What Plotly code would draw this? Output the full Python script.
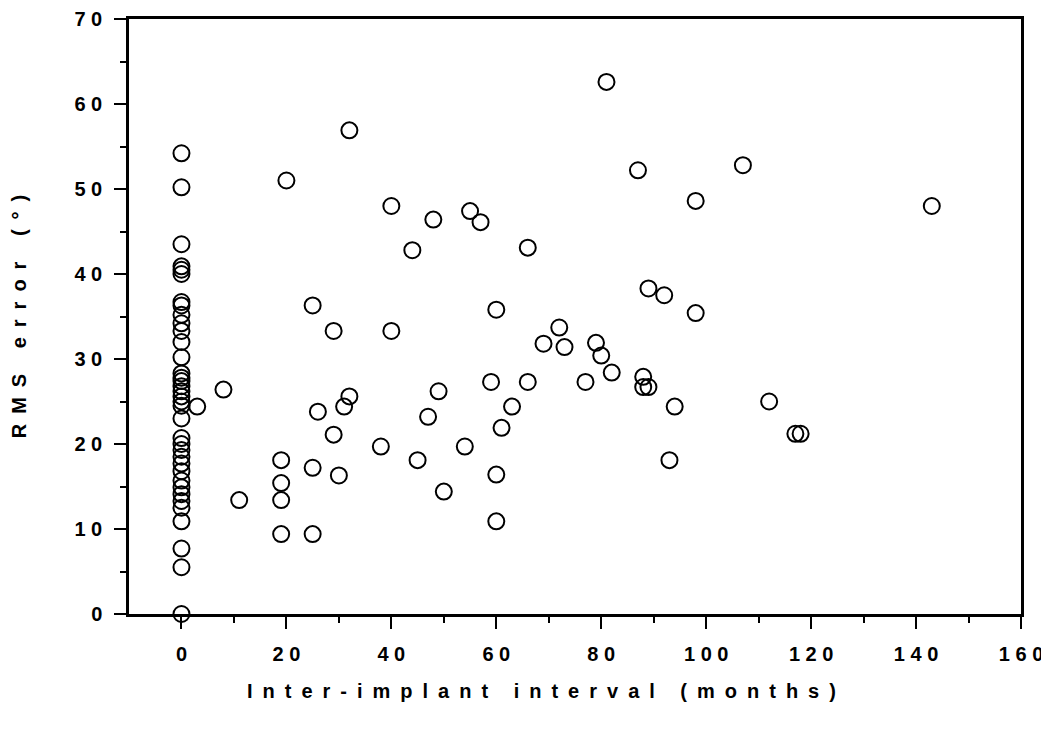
import plotly.graph_objects as go

# ---- data ----
x_zero_group = [0.0] * 37
y_zero_group = [54.2, 50.2, 43.5, 40.9, 40.5, 40.0, 36.7, 36.3, 35.2, 34.2, 33.3, 32.0,
                30.2, 28.3, 27.8, 27.4, 26.8, 26.2, 25.6, 25.0, 24.5, 23.0, 20.7, 20.0,
                19.3, 18.5, 17.7, 16.8, 15.7, 14.9, 14.1, 13.3, 12.5, 10.9, 7.7, 5.5, 0.0]

x_months = [3, 8, 11, 19, 19, 19, 19, 20, 25, 25, 25, 26, 29, 29, 30, 31, 32, 32,
            38, 40, 40, 44, 45, 47, 48, 49, 50, 54, 55, 57, 59, 60, 60, 60, 61, 63,
            66, 66, 69, 72, 73, 77, 79, 80, 81, 82, 87, 88, 88, 89, 89, 92, 93, 94,
            98, 98, 107, 112, 117, 118, 143]
y_rms = [24.4, 26.4, 13.4, 18.1, 15.4, 13.4, 9.4, 51.0, 36.3, 17.2, 9.4, 23.8, 33.3,
         21.1, 16.3, 24.4, 25.6, 56.9, 19.7, 48.0, 33.3, 42.8, 18.1, 23.2, 46.4, 26.2,
         14.4, 19.7, 47.4, 46.1, 27.3, 35.8, 16.4, 10.9, 21.9, 24.4, 43.1, 27.3, 31.8,
         33.7, 31.4, 27.3, 31.9, 30.4, 62.6, 28.4, 52.2, 27.9, 26.7, 26.7, 38.3, 37.5,
         18.1, 24.4, 48.6, 35.4, 52.8, 25.0, 21.2, 21.2, 48.0]

x_tickvals = [0, 20, 40, 60, 80, 100, 120, 140, 160]
x_ticktext = ["0", "2 0", "4 0", "6 0", "8 0", "1 0 0", "1 2 0", "1 4 0", "1 6 0"]
x_minor = [10, 30, 50, 70, 90, 110, 130, 150]
y_tickvals = [0, 10, 20, 30, 40, 50, 60, 70]
y_ticktext = ["0", "1 0", "2 0", "3 0", "4 0", "5 0", "6 0", "7 0"]
y_minor = [5, 15, 25, 35, 45, 55, 65]

x_title = "Inter-implant interval (months)"
y_title = "RMS error (°)"


def spaced(s):
    return "\u2002".join(list(s))


font_family = "Liberation Sans, Arial, Helvetica, sans-serif"
tick_font = dict(family=font_family, size=20, color="black", weight="bold")
title_font = dict(family=font_family, size=20, color="black", weight="bold")

fig = go.Figure()
fig.add_trace(go.Scatter(
    x=x_zero_group + x_months,
    y=y_zero_group + y_rms,
    mode="markers",
    marker=dict(symbol="circle-open", size=16, color="black", line=dict(width=2, color="black")),
    cliponaxis=False,
    hoverinfo="x+y",
))

axis_common = dict(
    showgrid=False, zeroline=False, showline=True, linewidth=2.5, linecolor="black",
    mirror=True, ticks="outside", ticklen=12, tickwidth=2, tickcolor="black",
    tickfont=tick_font, automargin=False,
)

fig.update_layout(
    width=1049, height=733,
    margin=dict(l=121, r=36, t=11, b=127),
    paper_bgcolor="white", plot_bgcolor="white",
    showlegend=False,
    xaxis=dict(
        range=[-10, 160], tickmode="array", tickvals=x_tickvals, ticktext=x_ticktext,
        minor=dict(tickmode="array", tickvals=x_minor, ticks="outside", ticklen=6,
                   tickwidth=2, tickcolor="black"),
        ticklabelstandoff=8,
        **axis_common,
    ),
    yaxis=dict(
        range=[0, 70], tickmode="array", tickvals=y_tickvals, ticktext=y_ticktext,
        minor=dict(tickmode="array", tickvals=y_minor, ticks="outside", ticklen=6,
                   tickwidth=2, tickcolor="black"),
        ticklabelstandoff=8,
        title=dict(text=spaced(y_title), font=title_font, standoff=52),
        **axis_common,
    ),
    annotations=[dict(
        text=spaced(x_title), font=title_font, showarrow=False,
        xref="paper", yref="paper", x=0.462, y=0, xanchor="center", yanchor="middle",
        yshift=-77,
    )],
)

fig.write_html("out.html")
